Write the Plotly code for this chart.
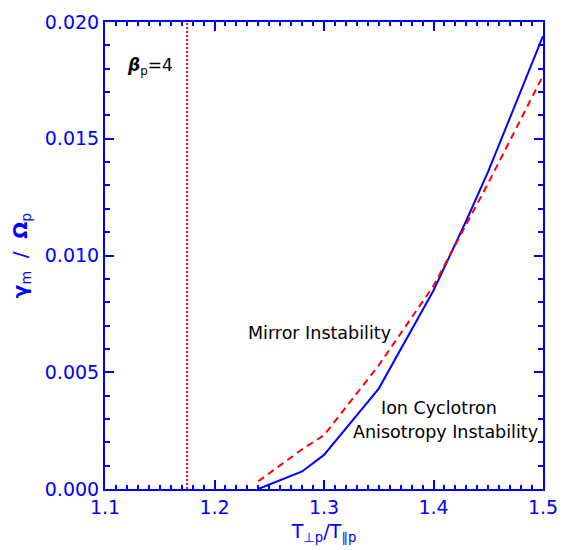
import plotly.graph_objects as go

# Data
x_ic = [1.24, 1.28, 1.30, 1.35, 1.40, 1.43, 1.45, 1.50]
g_ic = [0.0, 0.00075, 0.00146, 0.0043, 0.0085, 0.0115, 0.0136, 0.0194]

x_mirror = [1.24, 1.28, 1.30, 1.35, 1.40, 1.45, 1.50]
g_mirror = [0.00033, 0.0017, 0.0023, 0.0053, 0.0087, 0.0131, 0.0177]

x_threshold = [1.175, 1.175]
y_threshold = [0.0, 0.020]

x_ticks = [1.1, 1.2, 1.3, 1.4, 1.5]
y_ticks = [0.000, 0.005, 0.010, 0.015, 0.020]

BLUE = "rgb(0,0,255)"
RED = "rgb(255,0,0)"
FONT = "DejaVu Sans, Arial, sans-serif"

fig = go.Figure()
fig.add_trace(go.Scatter(x=x_threshold, y=y_threshold, mode="lines",
                         line=dict(color=RED, width=2, dash="2px,2px"),
                         showlegend=False))
fig.add_trace(go.Scatter(x=x_ic, y=g_ic, mode="lines",
                         line=dict(color=BLUE, width=2), showlegend=False))
fig.add_trace(go.Scatter(x=x_mirror, y=g_mirror, mode="lines",
                         line=dict(color=RED, width=2, dash="7px,5px"),
                         showlegend=False))

axis_common = dict(showgrid=False, zeroline=False, showline=True,
                   linecolor=BLUE, linewidth=2, mirror="ticks",
                   ticks="inside", tickcolor=BLUE, tickwidth=1.5,
                   tickfont=dict(color=BLUE, size=19, family=FONT))

fig.update_xaxes(range=[1.1, 1.5], tickvals=x_ticks,
                 ticktext=[f"{v:.1f}" for v in x_ticks], ticklen=9,
                 minor=dict(dtick=0.01, ticks="inside", ticklen=4,
                            tickcolor=BLUE, tickwidth=1.5),
                 title=dict(text="T<sub>⊥p</sub>/T<sub>∥p</sub>",
                            font=dict(color=BLUE, size=19, family=FONT),
                            standoff=8),
                 **axis_common)
fig.update_yaxes(range=[0, 0.020], tickvals=y_ticks,
                 ticktext=[f"{v:.3f}" for v in y_ticks], ticklen=9,
                 minor=dict(dtick=0.001, ticks="inside", ticklen=5,
                            tickcolor=BLUE, tickwidth=1.5),
                 title=dict(text="<b>γ</b><sub>m</sub>  /  <b>Ω</b><sub>p</sub>",
                            font=dict(color=BLUE, size=20, family=FONT),
                            standoff=12),
                 **axis_common)

ann_font = dict(color="black", size=17.5, family=FONT)
fig.add_annotation(x=1.118, y=0.0181, xanchor="left", yanchor="middle",
                   text="<b><i>β</i></b><sub>p</sub>=4", showarrow=False,
                   font=dict(color="black", size=17, family=FONT))
fig.add_annotation(x=1.2963, y=0.0067, text="Mirror Instability",
                   showarrow=False, font=ann_font)
fig.add_annotation(x=1.405, y=0.00297, yanchor="bottom", text="Ion Cyclotron",
                   showarrow=False, font=ann_font)
fig.add_annotation(x=1.4114, y=0.00297, yanchor="top",
                   text="Anisotropy Instability",
                   showarrow=False, font=ann_font)

fig.update_layout(width=572, height=550,
                  margin=dict(l=105, r=29, t=11, b=61),
                  paper_bgcolor="white", plot_bgcolor="white")

fig.write_html("out.html")
